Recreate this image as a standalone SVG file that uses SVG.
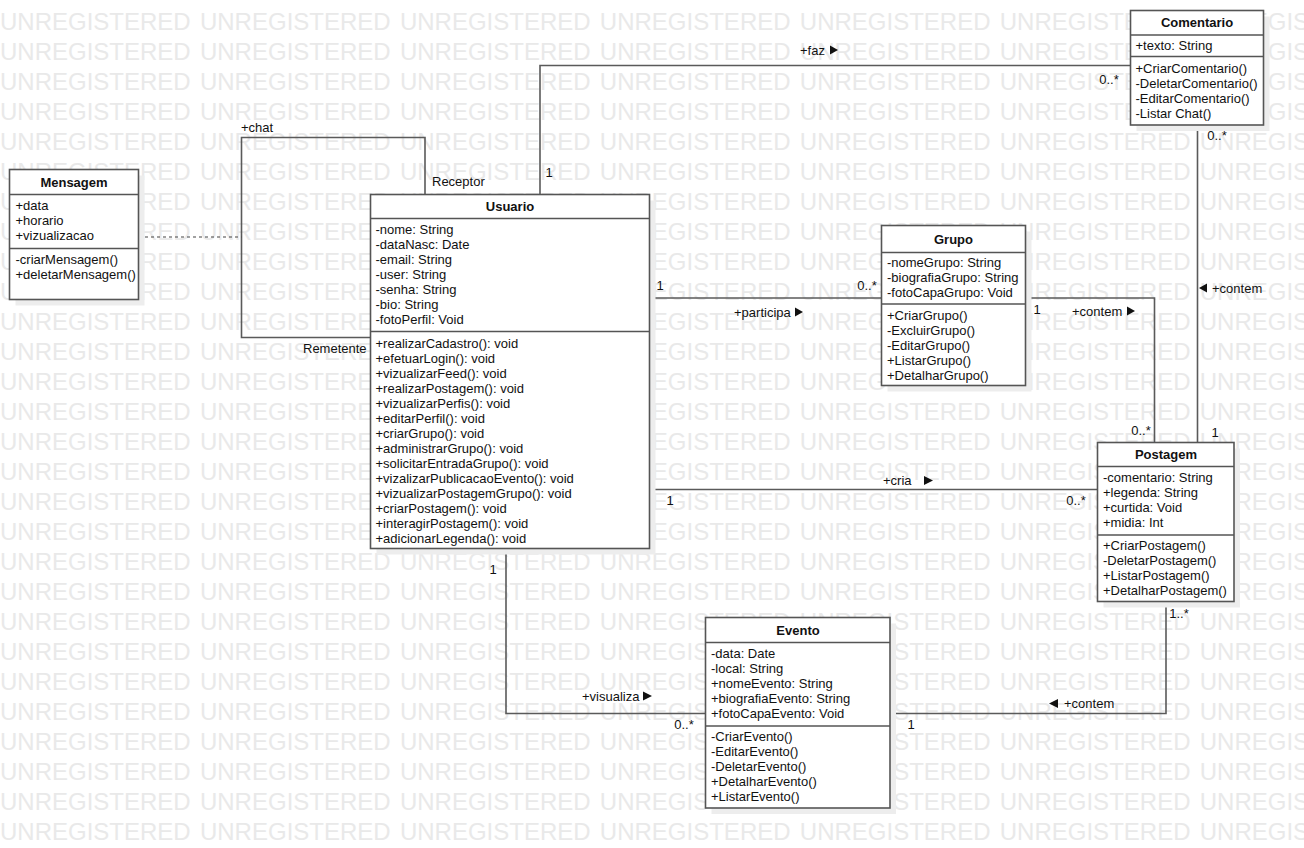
<svg xmlns="http://www.w3.org/2000/svg" width="1304" height="848" viewBox="0 0 1304 848">
<style>
.wm{font-family:"Liberation Sans",Arial,sans-serif;font-size:24px;fill:#e9e9e9;word-spacing:2.6px}
.t{font-family:"Liberation Sans",Arial,sans-serif;font-size:13px;fill:#111}
.b{font-weight:bold;text-anchor:middle}
.m{text-anchor:middle}
.box{fill:#fff;stroke:#555;stroke-width:1.6}
.sh{fill:#ededed}
.dv{stroke:#555;stroke-width:1.6}
.ln{fill:none;stroke:#5a5a5a;stroke-width:1.6}
.ds{fill:none;stroke:#444;stroke-width:1.2;stroke-dasharray:3,3}
.ar{fill:#111}
</style>
<rect width="1304" height="848" fill="#fff"/>
<g id="watermark">
<text class="wm" x="0" y="30">UNREGISTERED UNREGISTERED UNREGISTERED UNREGISTERED UNREGISTERED UNREGISTERED UNREGISTERED</text>
<text class="wm" x="0" y="60">UNREGISTERED UNREGISTERED UNREGISTERED UNREGISTERED UNREGISTERED UNREGISTERED UNREGISTERED</text>
<text class="wm" x="0" y="90">UNREGISTERED UNREGISTERED UNREGISTERED UNREGISTERED UNREGISTERED UNREGISTERED UNREGISTERED</text>
<text class="wm" x="0" y="120">UNREGISTERED UNREGISTERED UNREGISTERED UNREGISTERED UNREGISTERED UNREGISTERED UNREGISTERED</text>
<text class="wm" x="0" y="150">UNREGISTERED UNREGISTERED UNREGISTERED UNREGISTERED UNREGISTERED UNREGISTERED UNREGISTERED</text>
<text class="wm" x="0" y="180">UNREGISTERED UNREGISTERED UNREGISTERED UNREGISTERED UNREGISTERED UNREGISTERED UNREGISTERED</text>
<text class="wm" x="0" y="210">UNREGISTERED UNREGISTERED UNREGISTERED UNREGISTERED UNREGISTERED UNREGISTERED UNREGISTERED</text>
<text class="wm" x="0" y="240">UNREGISTERED UNREGISTERED UNREGISTERED UNREGISTERED UNREGISTERED UNREGISTERED UNREGISTERED</text>
<text class="wm" x="0" y="270">UNREGISTERED UNREGISTERED UNREGISTERED UNREGISTERED UNREGISTERED UNREGISTERED UNREGISTERED</text>
<text class="wm" x="0" y="300">UNREGISTERED UNREGISTERED UNREGISTERED UNREGISTERED UNREGISTERED UNREGISTERED UNREGISTERED</text>
<text class="wm" x="0" y="330">UNREGISTERED UNREGISTERED UNREGISTERED UNREGISTERED UNREGISTERED UNREGISTERED UNREGISTERED</text>
<text class="wm" x="0" y="360">UNREGISTERED UNREGISTERED UNREGISTERED UNREGISTERED UNREGISTERED UNREGISTERED UNREGISTERED</text>
<text class="wm" x="0" y="390">UNREGISTERED UNREGISTERED UNREGISTERED UNREGISTERED UNREGISTERED UNREGISTERED UNREGISTERED</text>
<text class="wm" x="0" y="420">UNREGISTERED UNREGISTERED UNREGISTERED UNREGISTERED UNREGISTERED UNREGISTERED UNREGISTERED</text>
<text class="wm" x="0" y="450">UNREGISTERED UNREGISTERED UNREGISTERED UNREGISTERED UNREGISTERED UNREGISTERED UNREGISTERED</text>
<text class="wm" x="0" y="480">UNREGISTERED UNREGISTERED UNREGISTERED UNREGISTERED UNREGISTERED UNREGISTERED UNREGISTERED</text>
<text class="wm" x="0" y="510">UNREGISTERED UNREGISTERED UNREGISTERED UNREGISTERED UNREGISTERED UNREGISTERED UNREGISTERED</text>
<text class="wm" x="0" y="540">UNREGISTERED UNREGISTERED UNREGISTERED UNREGISTERED UNREGISTERED UNREGISTERED UNREGISTERED</text>
<text class="wm" x="0" y="570">UNREGISTERED UNREGISTERED UNREGISTERED UNREGISTERED UNREGISTERED UNREGISTERED UNREGISTERED</text>
<text class="wm" x="0" y="600">UNREGISTERED UNREGISTERED UNREGISTERED UNREGISTERED UNREGISTERED UNREGISTERED UNREGISTERED</text>
<text class="wm" x="0" y="630">UNREGISTERED UNREGISTERED UNREGISTERED UNREGISTERED UNREGISTERED UNREGISTERED UNREGISTERED</text>
<text class="wm" x="0" y="660">UNREGISTERED UNREGISTERED UNREGISTERED UNREGISTERED UNREGISTERED UNREGISTERED UNREGISTERED</text>
<text class="wm" x="0" y="690">UNREGISTERED UNREGISTERED UNREGISTERED UNREGISTERED UNREGISTERED UNREGISTERED UNREGISTERED</text>
<text class="wm" x="0" y="720">UNREGISTERED UNREGISTERED UNREGISTERED UNREGISTERED UNREGISTERED UNREGISTERED UNREGISTERED</text>
<text class="wm" x="0" y="750">UNREGISTERED UNREGISTERED UNREGISTERED UNREGISTERED UNREGISTERED UNREGISTERED UNREGISTERED</text>
<text class="wm" x="0" y="780">UNREGISTERED UNREGISTERED UNREGISTERED UNREGISTERED UNREGISTERED UNREGISTERED UNREGISTERED</text>
<text class="wm" x="0" y="810">UNREGISTERED UNREGISTERED UNREGISTERED UNREGISTERED UNREGISTERED UNREGISTERED UNREGISTERED</text>
<text class="wm" x="0" y="840">UNREGISTERED UNREGISTERED UNREGISTERED UNREGISTERED UNREGISTERED UNREGISTERED UNREGISTERED</text>
</g>
<g id="connectors">
<path class="ln" d="M540,194.5 V65.5 H1130.5"/>
<path class="ln" d="M425,194.5 V137.5 H241.5 V337.5 H370.5"/>
<path class="ds" d="M139,237 H241.5"/>
<path class="ln" d="M649.5,298 H881.5"/>
<path class="ln" d="M1025.5,298 H1154.5 V442.5"/>
<path class="ln" d="M1197.5,125 V442.5"/>
<path class="ln" d="M649.5,489.5 H1097.5"/>
<path class="ln" d="M506,548.5 V713.5 H705.5"/>
<path class="ln" d="M1166,601.5 V713.5 H890"/>
<text class="t" x="800" y="54.5">+faz</text>
<polygon class="ar" points="830,45.5 838,50 830,54.5"/>
<text class="t" x="241" y="132">+chat</text>
<text class="t" x="432" y="185.5">Receptor</text>
<text class="t" x="303" y="352.5">Remetente</text>
<text class="t" x="734" y="316.5">+participa</text>
<polygon class="ar" points="795,307.5 803,312 795,316.5"/>
<text class="t" x="1072" y="315.5">+contem</text>
<polygon class="ar" points="1127,306.5 1135,311 1127,315.5"/>
<text class="t" x="1212" y="292.5">+contem</text>
<polygon class="ar" points="1207,283.5 1199,288 1207,292.5"/>
<text class="t" x="883" y="485">+cria</text>
<polygon class="ar" points="924,476 933,480.5 924,485"/>
<text class="t" x="582" y="700.5">+visualiza</text>
<polygon class="ar" points="643,691.5 652,696 643,700.5"/>
<text class="t" x="1064" y="708">+contem</text>
<polygon class="ar" points="1058,699 1049,703.5 1058,708"/>
<text class="t m" x="549" y="176.5">1</text>
<text class="t m" x="1109" y="83.5">0..*</text>
<text class="t m" x="660" y="289.5">1</text>
<text class="t m" x="867" y="289.5">0..*</text>
<text class="t m" x="1037" y="313.5">1</text>
<text class="t m" x="1141" y="434.5">0..*</text>
<text class="t m" x="1217" y="140">0..*</text>
<text class="t m" x="1215" y="436.5">1</text>
<text class="t m" x="670" y="505">1</text>
<text class="t m" x="1076" y="505">0..*</text>
<text class="t m" x="493" y="574">1</text>
<text class="t m" x="684" y="728.5">0..*</text>
<text class="t m" x="1179" y="617.5">1..*</text>
<text class="t m" x="911" y="729">1</text>
</g>
<g id="Mensagem">
<rect class="sh" x="15.5" y="175.5" width="129" height="130"/>
<rect class="box" x="9.5" y="169.5" width="129" height="130"/>
<line class="dv" x1="9.5" y1="194.5" x2="138.5" y2="194.5"/>
<line class="dv" x1="9.5" y1="248.5" x2="138.5" y2="248.5"/>
<text class="t b" x="74" y="187">Mensagem</text>
<text class="t" x="15.5" y="210">+data</text>
<text class="t" x="15.5" y="225">+horario</text>
<text class="t" x="15.5" y="240">+vizualizacao</text>
<text class="t" x="15.5" y="263.5">-criarMensagem()</text>
<text class="t" x="15.5" y="278.5">+deletarMensagem()</text>
</g>
<g id="Usuario">
<rect class="sh" x="376.5" y="200.5" width="279" height="354"/>
<rect class="box" x="370.5" y="194.5" width="279" height="354"/>
<line class="dv" x1="370.5" y1="218.5" x2="649.5" y2="218.5"/>
<line class="dv" x1="370.5" y1="331.5" x2="649.5" y2="331.5"/>
<text class="t b" x="510" y="211">Usuario</text>
<text class="t" x="375.5" y="234">-nome: String</text>
<text class="t" x="375.5" y="249">-dataNasc: Date</text>
<text class="t" x="375.5" y="264">-email: String</text>
<text class="t" x="375.5" y="279">-user: String</text>
<text class="t" x="375.5" y="294">-senha: String</text>
<text class="t" x="375.5" y="309">-bio: String</text>
<text class="t" x="375.5" y="324">-fotoPerfil: Void</text>
<text class="t" x="375.5" y="348">+realizarCadastro(): void</text>
<text class="t" x="375.5" y="363">+efetuarLogin(): void</text>
<text class="t" x="375.5" y="378">+vizualizarFeed(): void</text>
<text class="t" x="375.5" y="393">+realizarPostagem(): void</text>
<text class="t" x="375.5" y="408">+vizualizarPerfis(): void</text>
<text class="t" x="375.5" y="423">+editarPerfil(): void</text>
<text class="t" x="375.5" y="438">+criarGrupo(): void</text>
<text class="t" x="375.5" y="453">+administrarGrupo(): void</text>
<text class="t" x="375.5" y="468">+solicitarEntradaGrupo(): void</text>
<text class="t" x="375.5" y="483">+vizalizarPublicacaoEvento(): void</text>
<text class="t" x="375.5" y="498">+vizualizarPostagemGrupo(): void</text>
<text class="t" x="375.5" y="513">+criarPostagem(): void</text>
<text class="t" x="375.5" y="528">+interagirPostagem(): void</text>
<text class="t" x="375.5" y="543">+adicionarLegenda(): void</text>
</g>
<g id="Grupo">
<rect class="sh" x="887.5" y="231.5" width="144" height="160"/>
<rect class="box" x="881.5" y="225.5" width="144" height="160"/>
<line class="dv" x1="881.5" y1="252.5" x2="1025.5" y2="252.5"/>
<line class="dv" x1="881.5" y1="304" x2="1025.5" y2="304"/>
<text class="t b" x="953.5" y="243.5">Grupo</text>
<text class="t" x="887" y="267">-nomeGrupo: String</text>
<text class="t" x="887" y="282">-biografiaGrupo: String</text>
<text class="t" x="887" y="297">-fotoCapaGrupo: Void</text>
<text class="t" x="887" y="320">+CriarGrupo()</text>
<text class="t" x="887" y="335">-ExcluirGrupo()</text>
<text class="t" x="887" y="350">-EditarGrupo()</text>
<text class="t" x="887" y="365">+ListarGrupo()</text>
<text class="t" x="887" y="380">+DetalharGrupo()</text>
</g>
<g id="Comentario">
<rect class="sh" x="1136.5" y="16.5" width="133" height="114.5"/>
<rect class="box" x="1130.5" y="10.5" width="133" height="114.5"/>
<line class="dv" x1="1130.5" y1="35" x2="1263.5" y2="35"/>
<line class="dv" x1="1130.5" y1="56.5" x2="1263.5" y2="56.5"/>
<text class="t b" x="1197" y="27">Comentario</text>
<text class="t" x="1135.5" y="50">+texto: String</text>
<text class="t" x="1135.5" y="73">+CriarComentario()</text>
<text class="t" x="1135.5" y="88">-DeletarComentario()</text>
<text class="t" x="1135.5" y="103">-EditarComentario()</text>
<text class="t" x="1135.5" y="118">-Listar Chat()</text>
</g>
<g id="Postagem">
<rect class="sh" x="1103.5" y="448.5" width="136.5" height="159"/>
<rect class="box" x="1097.5" y="442.5" width="136.5" height="159"/>
<line class="dv" x1="1097.5" y1="466.5" x2="1234" y2="466.5"/>
<line class="dv" x1="1097.5" y1="535" x2="1234" y2="535"/>
<text class="t b" x="1166" y="459">Postagem</text>
<text class="t" x="1103" y="482">-comentario: String</text>
<text class="t" x="1103" y="497">+legenda: String</text>
<text class="t" x="1103" y="512">+curtida: Void</text>
<text class="t" x="1103" y="527">+midia: Int</text>
<text class="t" x="1103" y="550">+CriarPostagem()</text>
<text class="t" x="1103" y="565">-DeletarPostagem()</text>
<text class="t" x="1103" y="580">+ListarPostagem()</text>
<text class="t" x="1103" y="595">+DetalharPostagem()</text>
</g>
<g id="Evento">
<rect class="sh" x="711.5" y="623.5" width="184.5" height="190.5"/>
<rect class="box" x="705.5" y="617.5" width="184.5" height="190.5"/>
<line class="dv" x1="705.5" y1="642.5" x2="890" y2="642.5"/>
<line class="dv" x1="705.5" y1="726" x2="890" y2="726"/>
<text class="t b" x="798" y="635">Evento</text>
<text class="t" x="711" y="658">-data: Date</text>
<text class="t" x="711" y="673">-local: String</text>
<text class="t" x="711" y="688">+nomeEvento: String</text>
<text class="t" x="711" y="703">+biografiaEvento: String</text>
<text class="t" x="711" y="718">+fotoCapaEvento: Void</text>
<text class="t" x="711" y="741">-CriarEvento()</text>
<text class="t" x="711" y="756">-EditarEvento()</text>
<text class="t" x="711" y="771">-DeletarEvento()</text>
<text class="t" x="711" y="786">+DetalharEvento()</text>
<text class="t" x="711" y="801">+ListarEvento()</text>
</g>
</svg>
